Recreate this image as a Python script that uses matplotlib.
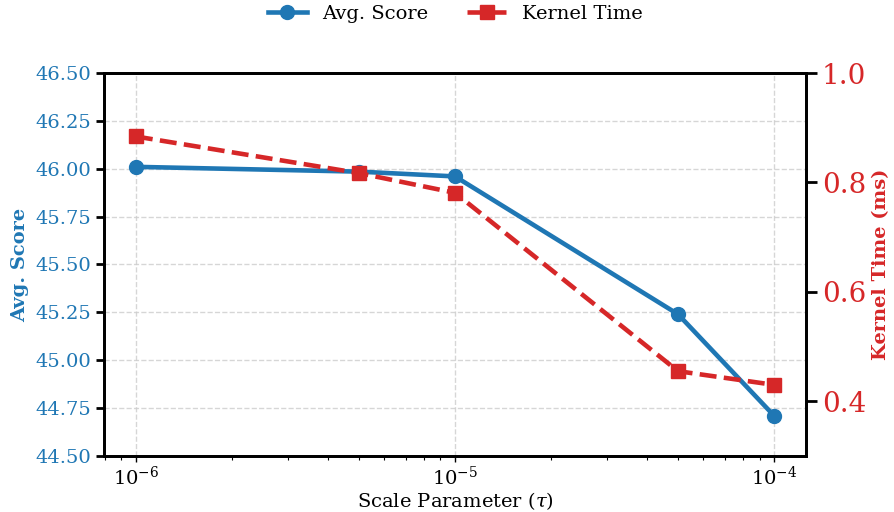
import matplotlib
matplotlib.use("Agg")
import matplotlib.pyplot as plt
from matplotlib.ticker import FixedLocator

plt.rcParams['font.family'] = ['DejaVu Serif']
plt.rcParams['mathtext.fontset'] = 'dejavuserif'

tau = [1e-6, 5e-6, 1e-5, 5e-5, 1e-4]
avg_score = [46.01, 45.985, 45.96, 45.24, 44.71]
kernel_time = [0.884, 0.817, 0.781, 0.455, 0.430]
left_ticks = [44.50, 44.75, 45.00, 45.25, 45.50, 45.75, 46.00, 46.25, 46.50]
right_ticks = [0.4, 0.6, 0.8, 1.0]

blue = '#1f77b4'
red = '#d62728'

fig = plt.figure(figsize=(8.94, 5.12), dpi=100)
ax = fig.add_axes([0.1163, 0.1094, 0.9016 - 0.1163, 0.8574 - 0.1094])
ax2 = ax.twinx()

l1, = ax.plot(tau, avg_score, color=blue, marker='o', linewidth=3.3, markersize=10, label='Avg. Score', zorder=3)
l2, = ax2.plot(tau, kernel_time, color=red, marker='s', linestyle='--', linewidth=3.3, markersize=9.5, label='Kernel Time', zorder=3)

ax.set_xscale('log')
ax.set_ylim(44.5, 46.5)
ax2.set_ylim(0.3, 1.0)
ax.yaxis.set_major_locator(FixedLocator(left_ticks))
ax.set_yticklabels([f'{v:.2f}' for v in left_ticks])
ax2.yaxis.set_major_locator(FixedLocator(right_ticks))
ax2.set_yticklabels([f'{v:.1f}' for v in right_ticks])

ax.grid(True, which='major', linestyle='--', color='#cccccc', linewidth=1.0, alpha=0.8)
ax.set_axisbelow(True)

ax.tick_params(axis='y', colors='black', labelcolor=blue, labelsize=14, length=6, width=2, direction='out')
ax.tick_params(axis='x', which='major', labelsize=14, length=4, width=1, colors='black', pad=3)
ax.tick_params(axis='x', which='minor', length=3, width=0.8)
ax2.tick_params(axis='y', colors='black', labelcolor=red, labelsize=20, length=8, width=2)

for a in (ax, ax2):
    for s in a.spines.values():
        s.set_linewidth(2)
        s.set_color('black')

ax.set_xlabel(r'Scale Parameter ($\tau$)', fontsize=14)
ax.xaxis.set_label_coords(0.5, -0.088)
ax.set_ylabel('Avg. Score', fontsize=14, fontweight='bold', color=blue)
ax2.set_ylabel('Kernel Time (ms)', fontsize=14, fontweight='bold', color=red)

ax.legend(handles=[l1, l2], loc='center', bbox_to_anchor=(0.5, 1.155), ncol=2, frameon=False, fontsize=14)

fig.savefig('out.png', dpi=100)
